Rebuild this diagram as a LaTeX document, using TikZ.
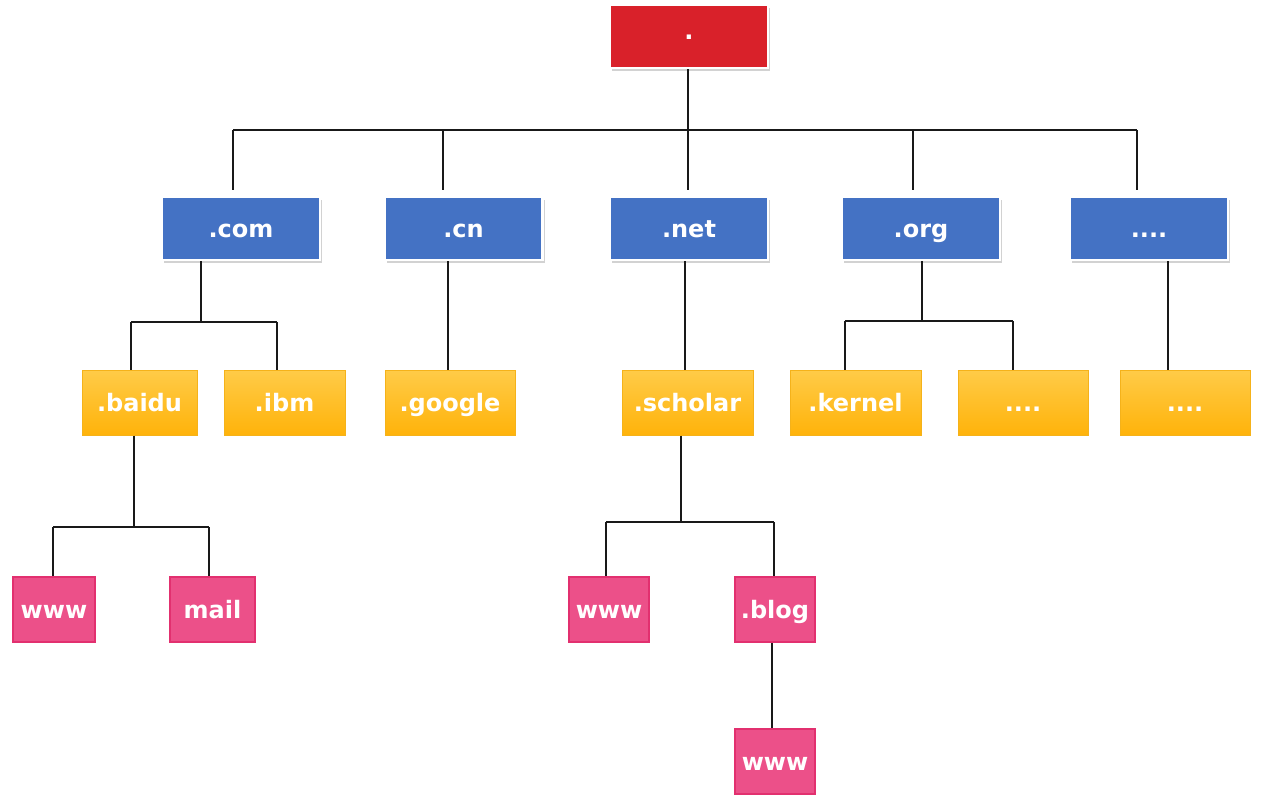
\documentclass[tikz,border=0pt]{standalone}
\usepackage{fontspec}
\setmainfont{DejaVu Sans}
\usetikzlibrary{shadows,calc}
\definecolor{rootred}{HTML}{D9212A}
\definecolor{tldblue}{HTML}{4472C4}
\definecolor{ortop}{HTML}{FFCB48}
\definecolor{orbot}{HTML}{FFB30A}
\definecolor{orline}{HTML}{F5B21A}
\definecolor{pinkfill}{HTML}{EC5089}
\definecolor{pinkline}{HTML}{E2306F}
\tikzset{
  box/.style={inner sep=0pt, text=white, font=\fontsize{24}{28}\selectfont\bfseries,
    text height=18pt, text depth=0pt},
  rootbox/.style={box, fill=rootred, draw=white, line width=2.5pt,
    minimum width=158pt, minimum height=63pt, text height=5pt,
    drop shadow={shadow xshift=2pt, shadow yshift=-3pt, opacity=0.35}},
  bluebox/.style={box, fill=tldblue, draw=white, line width=2.5pt,
    minimum width=158pt, minimum height=63pt,
    drop shadow={shadow xshift=2pt, shadow yshift=-3pt, opacity=0.35}},
  orbox/.style={box, top color=ortop, bottom color=orbot, draw=orline, line width=1pt,
    minimum height=65pt},
  pinkbox/.style={box, fill=pinkfill, draw=pinkline, line width=1.5pt,
    minimum height=65pt},
  conn/.style={draw=black!90, line width=2pt}
}
\begin{document}
\begin{tikzpicture}[x=1pt,y=-1pt]
\useasboundingbox (0,0) rectangle (1268,806);
\fill[white] (0,0) rectangle (1268,806);
% root
\node[rootbox] (root) at (689,36.5) {.};
% TLDs
\node[bluebox] (com) at (241,228.5) {.com};
\node[bluebox] (cn) at (463.5,228.5) {.cn};
\node[bluebox] (net) at (689,228.5) {.net};
\node[bluebox] (org) at (921,228.5) {.org};
\node[bluebox] (tdots) at (1149,228.5) {....};
% second level
\node[orbox, minimum width=115pt] (baidu) at (139.5,402.5) {.baidu};
\node[orbox, minimum width=121pt] (ibm) at (284.5,402.5) {.ibm};
\node[orbox, minimum width=130pt] (google) at (450,402.5) {.google};
\node[orbox, minimum width=131pt] (scholar) at (687.5,402.5) {.scholar};
\node[orbox, minimum width=131pt] (kernel) at (855.5,402.5) {.kernel};
\node[orbox, minimum width=130pt] (odots) at (1023,402.5) {....};
\node[orbox, minimum width=130pt] (rdots) at (1185,402.5) {....};
% third level
\node[pinkbox, minimum width=82pt] (www1) at (54,609.5) {www};
\node[pinkbox, minimum width=85pt] (mail) at (212.5,609.5) {mail};
\node[pinkbox, minimum width=80pt] (www2) at (609,609.5) {www};
\node[pinkbox, minimum width=80pt] (blog) at (775,609.5) {.blog};
\node[pinkbox, minimum width=80pt] (www3) at (775,761.5) {www};
% top bus
\coordinate (bcom) at (233,130);
\coordinate (bcn) at (443,130);
\coordinate (bnet) at (688,130);
\coordinate (borg) at (913,130);
\coordinate (bdots) at (1137,130);
\draw[conn] (root.south -| bnet) -- (bnet);
\draw[conn] (bcom) -- (bdots);
\foreach \b in {bcom,bcn,bnet,borg,bdots} {
  \draw[conn] (\b) -- ($(\b)+(0,60)$);
}
% .com children
\coordinate (jcom) at (201,322);
\coordinate (jbaidu) at (131,322);
\coordinate (jibm) at (277,322);
\draw[conn] (com.south -| jcom) -- (jcom);
\draw[conn] (jbaidu) -- (jibm);
\draw[conn] (jbaidu) -- (baidu.north -| jbaidu);
\draw[conn] (jibm) -- (ibm.north -| jibm);
% .cn child
\coordinate (jcn) at (448,300);
\draw[conn] (cn.south -| jcn) -- (google.north -| jcn);
% .net child
\coordinate (jnet) at (685,300);
\draw[conn] (net.south -| jnet) -- (scholar.north -| jnet);
% .org children
\coordinate (jorg) at (922,321);
\coordinate (jkernel) at (845,321);
\coordinate (jodots) at (1013,321);
\draw[conn] (org.south -| jorg) -- (jorg);
\draw[conn] (jkernel) -- (jodots);
\draw[conn] (jkernel) -- (kernel.north -| jkernel);
\draw[conn] (jodots) -- (odots.north -| jodots);
% .... child
\coordinate (jtd) at (1168,300);
\draw[conn] (tdots.south -| jtd) -- (rdots.north -| jtd);
% .baidu children
\coordinate (jbd) at (134,527);
\coordinate (jw1) at (53,527);
\coordinate (jmail) at (209,527);
\draw[conn] (baidu.south -| jbd) -- (jbd);
\draw[conn] (jw1) -- (jmail);
\draw[conn] (jw1) -- (www1.north -| jw1);
\draw[conn] (jmail) -- (mail.north -| jmail);
% .scholar children
\coordinate (jsch) at (681,522);
\coordinate (jw2) at (606,522);
\coordinate (jblog) at (774,522);
\draw[conn] (scholar.south -| jsch) -- (jsch);
\draw[conn] (jw2) -- (jblog);
\draw[conn] (jw2) -- (www2.north -| jw2);
\draw[conn] (jblog) -- (blog.north -| jblog);
% .blog child
\coordinate (jbl) at (772,680);
\draw[conn] (blog.south -| jbl) -- (www3.north -| jbl);
\end{tikzpicture}
\end{document}
